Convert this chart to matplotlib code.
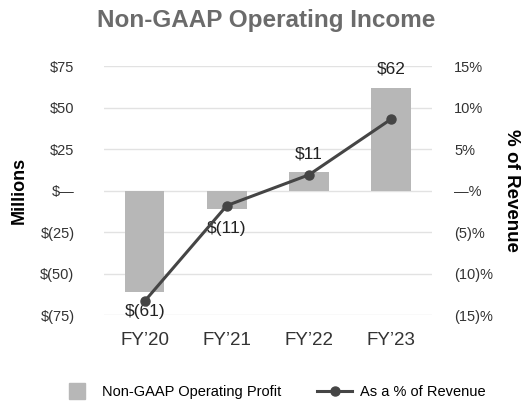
import matplotlib.pyplot as plt
import numpy as np
from matplotlib.lines import Line2D

plt.rcParams['font.family'] = ['Liberation Sans', 'DejaVu Sans']

# data
years = ['FY\u201920', 'FY\u201921', 'FY\u201922', 'FY\u201923']
profit = [-61, -11, 11, 62]           # $ millions
pct_rev = [-13.3, -1.8, 1.9, 8.6]      # % of revenue
profit_labels = ['$(61)', '$(11)', '$11', '$62']

left_ticks = [75, 50, 25, 0, -25, -50, -75]
left_labels = ['$75', '$50', '$25', '$\u2014', '$(25)', '$(50)', '$(75)']
right_ticks = [15, 10, 5, 0, -5, -10, -15]
right_labels = ['15%', '10%', '5%', '\u2014%', '(5)%', '(10)%', '(15)%']

bar_color = '#b7b7b7'
line_color = '#454545'
text_color = '#333333'

fig = plt.figure(figsize=(5.32, 4.03), dpi=100)
ax = fig.add_axes([0.195, 0.218, 0.617, 0.618])
x = np.arange(len(years))

ax.bar(x, profit, width=0.48, color=bar_color, zorder=2)
ax.set_xlim(-0.5, 3.5)
ax.set_ylim(-75, 75)
ax.set_yticks(left_ticks)
ax.set_yticklabels(left_labels)
ax.grid(axis='y', color='#e2e2e2', linewidth=1, zorder=0)
ax.set_xticks(x)
ax.set_xticklabels(years, fontsize=13.5, color=text_color)
ax.tick_params(axis='x', length=0, pad=12)
ax.tick_params(axis='y', length=0, pad=21, labelsize=10.5, labelcolor=text_color)
for s in ax.spines.values():
    s.set_visible(False)
ax.set_ylabel('Millions', fontsize=13, fontweight='bold', labelpad=9)

for xi, v, lab in zip(x, profit, profit_labels):
    off = 13.5 if v > 0 else -14
    ax.annotate(lab, (xi, v), xytext=(0, off), textcoords='offset points',
                ha='center', va='center', fontsize=12.5, color='#222222', zorder=5)

ax2 = ax.twinx()
ax2.plot(x, pct_rev, color=line_color, linewidth=2.2, marker='o', markersize=6.5, zorder=4)
ax2.set_ylim(-15, 15)
ax2.set_yticks(right_ticks)
ax2.set_yticklabels(right_labels)
ax2.tick_params(axis='y', length=0, pad=16, labelsize=10.5, labelcolor=text_color)
for s in ax2.spines.values():
    s.set_visible(False)
ax2.set_ylabel('% of Revenue', fontsize=13.5, fontweight='bold', rotation=270, labelpad=19)

fig.text(0.5, 0.95, 'Non-GAAP Operating Income', ha='center', va='center',
         fontsize=17.5, fontweight='bold', color='#6b6b6b')

handles = [Line2D([0], [0], color=bar_color, linestyle='none', marker='s', markersize=11,
                  label='Non-GAAP Operating Profit'),
           Line2D([0], [0], color=line_color, linewidth=2.2, marker='o', markersize=6.5,
                  label='As a % of Revenue')]
fig.legend(handles=handles, loc='center', bbox_to_anchor=(0.512, 0.027), ncol=2,
           frameon=False, fontsize=10.5, handlelength=2.4, columnspacing=2.5,
           handletextpad=0.5)

fig.savefig('out.png', dpi=100, facecolor='white')
